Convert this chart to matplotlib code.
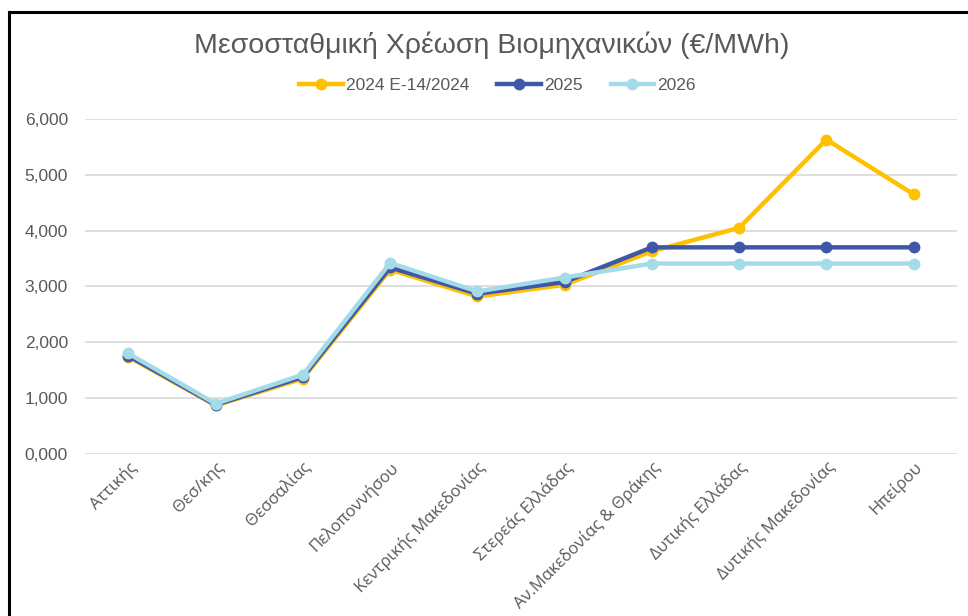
import matplotlib
matplotlib.use("Agg")
import matplotlib.pyplot as plt
from matplotlib.lines import Line2D
from matplotlib.ticker import FuncFormatter

plt.rcParams['font.family'] = ['Liberation Sans', 'DejaVu Sans']

regions = ["Αττικής", "Θεσ/κης", "Θεσσαλίας", "Πελοποννήσου", "Κεντρικής Μακεδονίας",
           "Στερεάς Ελλάδας", "Αν.Μακεδονίας & Θράκης", "Δυτικής Ελλάδας",
           "Δυτικής Μακεδονίας", "Ηπείρου"]
v2024 = [1.74, 0.87, 1.35, 3.30, 2.82, 3.03, 3.63, 4.05, 5.63, 4.65]
v2025 = [1.76, 0.88, 1.38, 3.34, 2.87, 3.08, 3.70, 3.70, 3.70, 3.70]
v2026 = [1.80, 0.90, 1.42, 3.42, 2.91, 3.16, 3.41, 3.41, 3.41, 3.41]
labels = ["2024 Ε-14/2024", "2025", "2026"]
colors = ["#FFC000", "#3F57A8", "#A3DBE8"]

fig = plt.figure(figsize=(9.68, 6.16), dpi=100)
ax = fig.add_axes([0.0875, 0.263, 0.9015, 0.544])

x = range(len(regions))
for vals, col in zip([v2024, v2025, v2026], colors):
    ax.plot(x, vals, color=col, lw=3.2, marker='o', markersize=7.5, solid_joinstyle='round')

ax.set_xlim(-0.5, len(regions) - 0.5)
ax.set_ylim(0, 6)
ax.set_yticks([0, 1, 2, 3, 4, 5, 6])
ax.yaxis.set_major_formatter(FuncFormatter(lambda v, p: f"{v:.3f}".replace('.', ',')))
ax.grid(axis='y', color='#D9D9D9', lw=1.2)
ax.set_axisbelow(True)
for s in ax.spines.values():
    s.set_visible(False)
ax.tick_params(axis='both', length=0, colors='#595959', labelsize=12.5)
ax.tick_params(axis='y', pad=12)
ax.set_xticks(list(x))
ax.set_xticklabels(regions, rotation=45, ha='right', rotation_mode='anchor',
                   fontsize=12, family=['Open Sans', 'DejaVu Sans'])

fig.text(0.508, 0.927, "Μεσοσταθμική Χρέωση Βιομηχανικών (€/MWh)", ha='center', va='center',
         fontsize=20.5, color='#595959')

handles = [Line2D([], [], color=c, lw=3.2, marker='o', markersize=7.5) for c in colors]
fig.legend(handles, labels, loc='center', bbox_to_anchor=(0.514, 0.862), ncol=3, frameon=False,
           fontsize=12.5, labelcolor='#595959', handlelength=2.5, handletextpad=0.2,
           columnspacing=1.6)

# frame of the original screenshot
fig.add_artist(Line2D([0.0093, 0.0093], [0, 0.9805], color='black', lw=2.2, transform=fig.transFigure))
fig.add_artist(Line2D([0.0093, 1.0], [0.9805, 0.9805], color='black', lw=2.2, transform=fig.transFigure))

fig.savefig("out.png", dpi=100)
